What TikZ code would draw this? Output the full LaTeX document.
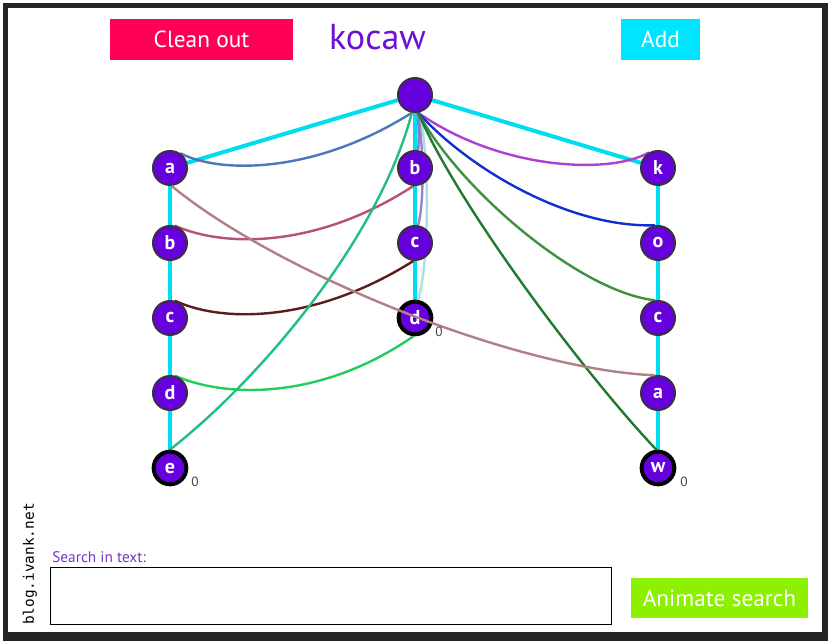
\documentclass[tikz,border=0pt]{standalone}
\usepackage{fontspec}
\usetikzlibrary{backgrounds}
\setmainfont{PT Sans}
\newfontfamily\monof{DejaVu Sans Mono}
\definecolor{framegray}{HTML}{252525}
\definecolor{nodefill}{HTML}{6600DD}
\definecolor{nodeborder}{HTML}{3A3040}
\definecolor{treecyan}{HTML}{00DDF0}
\definecolor{cleanred}{HTML}{FF0055}
\definecolor{addcyan}{HTML}{00E5FF}
\definecolor{titlepurple}{HTML}{7010D0}
\definecolor{animgreen}{HTML}{8CF000}
\definecolor{searchpurple}{HTML}{8030D0}
\definecolor{lkA}{HTML}{4A78B8}
\definecolor{lkB}{HTML}{B8507E}
\definecolor{lkC}{HTML}{5A1E1E}
\definecolor{lkD}{HTML}{22CC60}
\definecolor{lkE}{HTML}{20C080}
\definecolor{lkK}{HTML}{B040D0}
\definecolor{lkO}{HTML}{1030D0}
\definecolor{lkRC}{HTML}{409040}
\definecolor{lkW}{HTML}{207A30}
\definecolor{lkRA}{HTML}{B08088}
\definecolor{lkMB}{HTML}{8080D0}
\definecolor{lkMC}{HTML}{A080D0}
\definecolor{lkMD}{HTML}{A8E0E8}
\definecolor{zerogray}{HTML}{444444}
\tikzset{
  tnode/.style={circle, fill=nodefill, draw=nodeborder, line width=1.5pt,
    minimum size=25.5pt, inner sep=0pt, text=white,
    font=\fontsize{15}{15}\selectfont\bfseries},
  termnode/.style={tnode, draw=black, line width=3pt, minimum size=24.5pt},
  treeedge/.style={treecyan, line width=3pt},
  flink/.style={line width=1.8pt},
  btn/.style={inner sep=0pt, text=white, font=\fontsize{17.5}{17.5}\selectfont},
  zerolbl/.style={text=zerogray, font=\fontsize{10}{10}\selectfont, inner sep=0pt}
}
\begin{document}
\begin{tikzpicture}[x=0.75pt,y=-0.75pt]
\useasboundingbox (0,0) rectangle (828,641);

% header
\node[btn, fill=cleanred, minimum width=137.25pt, minimum height=30.75pt] (clean) at (201.5,39.5) {Clean out};
\node[inner sep=0pt, text=titlepurple, font=\fontsize{27}{27}\selectfont] (title) at (377.5,37) {kocaw};
\node[btn, fill=addcyan, minimum width=59.25pt, minimum height=30.75pt] (add) at (660.5,39.5) {Add};

% nodes
\node[tnode] (root) at (415,95) {};
\node[tnode] (la) at (170,168) {a};
\node[tnode] (lb) at (170,243) {b};
\node[tnode] (lc) at (170,318) {c};
\node[tnode] (ld) at (170,393) {d};
\node[termnode] (le) at (170,468) {e};
\node[tnode] (mb) at (415,168) {b};
\node[tnode] (mc) at (415,243) {c};
\node[termnode] (md) at (415,318) {d};
\node[tnode] (rk) at (658,168) {k};
\node[tnode] (ro) at (658,243) {o};
\node[tnode] (rc) at (658,318) {c};
\node[tnode] (ra) at (658,393) {a};
\node[termnode] (rw) at (658,468) {w};

% edges and links drawn behind nodes
\begin{scope}[on background layer]
  \fill[white] (0,0) rectangle (828,641);
  \fill[framegray] (3,3) rectangle (828,641);
  \fill[white] (8,8) rectangle (822,632);
  % trie edges
  \draw[treeedge] (root) -- (la);
  \draw[treeedge] (root) -- (mb);
  \draw[treeedge] (root) -- (rk);
  \draw[treeedge] (la) -- (lb);
  \draw[treeedge] (lb) -- (lc);
  \draw[treeedge] (lc) -- (ld);
  \draw[treeedge] (ld) -- (le);
  \draw[treeedge] (mb) -- (mc);
  \draw[treeedge] (mc) -- (md);
  \draw[treeedge] (rk) -- (ro);
  \draw[treeedge] (ro) -- (rc);
  \draw[treeedge] (rc) -- (ra);
  \draw[treeedge] (ra) -- (rw);
  % failure links
  \draw[flink, lkMD] (md.80) .. controls (430,260) and (429,150) .. (root);
  \draw[flink, lkMC] (mc.80) .. controls (424,205) and (424,150) .. (root);
  \draw[flink, lkMB] (mb.80) .. controls (419,140) and (419,125) .. (root);
  \draw[flink, lkA] (la.55) .. controls (220,174) and (315,174) .. (root.-100);
  \draw[flink, lkB] (lb.75) .. controls (225,248) and (318,248) .. (mb.-95);
  \draw[flink, lkC] (lc.75) .. controls (222,323) and (315,323) .. (mc.-95);
  \draw[flink, lkD] (ld.75) .. controls (228,399) and (323,399) .. (md.-95);
  \draw[flink, lkE] (le.90) .. controls (265,375) and (380,235) .. (root.-100);
  \draw[flink, lkK] (rk.120) .. controls (610,175) and (500,170) .. (root.-80);
  \draw[flink, lkO] (ro.100) .. controls (570,228) and (470,170) .. (root.-80);
  \draw[flink, lkRC] (rc.100) .. controls (580,292) and (460,190) .. (root.-80);
  \draw[flink, lkW] (rw.95) .. controls (590,380) and (460,210) .. (root.-80);
\end{scope}

% link drawn over a node
\draw[flink, lkRA] (ra.100) .. controls (520,370) and (280,275) .. (la.-85);

% terminal counters
\node[zerolbl] (zle) at (195,482) {0};
\node[zerolbl] (zmd) at (439,332) {0};
\node[zerolbl] (zrw) at (684,482) {0};

% footer
\node[rotate=90, inner sep=0pt, font=\monof\fontsize{10.8}{10.8}\selectfont] (blog) at (30,564) {blog.ivank.net};
\node[anchor=base west, inner sep=0pt, text=searchpurple, font=\fontsize{11.5}{11.5}\selectfont] (searchlbl) at (52,562) {Search in text:};
\node[draw=black, line width=0.75pt, minimum width=420.75pt, minimum height=42.75pt, inner sep=0pt] (searchbox) at (330.5,595.5) {};
\node[btn, fill=animgreen, minimum width=132.75pt, minimum height=30pt] (animate) at (719.5,598) {Animate search};
\end{tikzpicture}
\end{document}
